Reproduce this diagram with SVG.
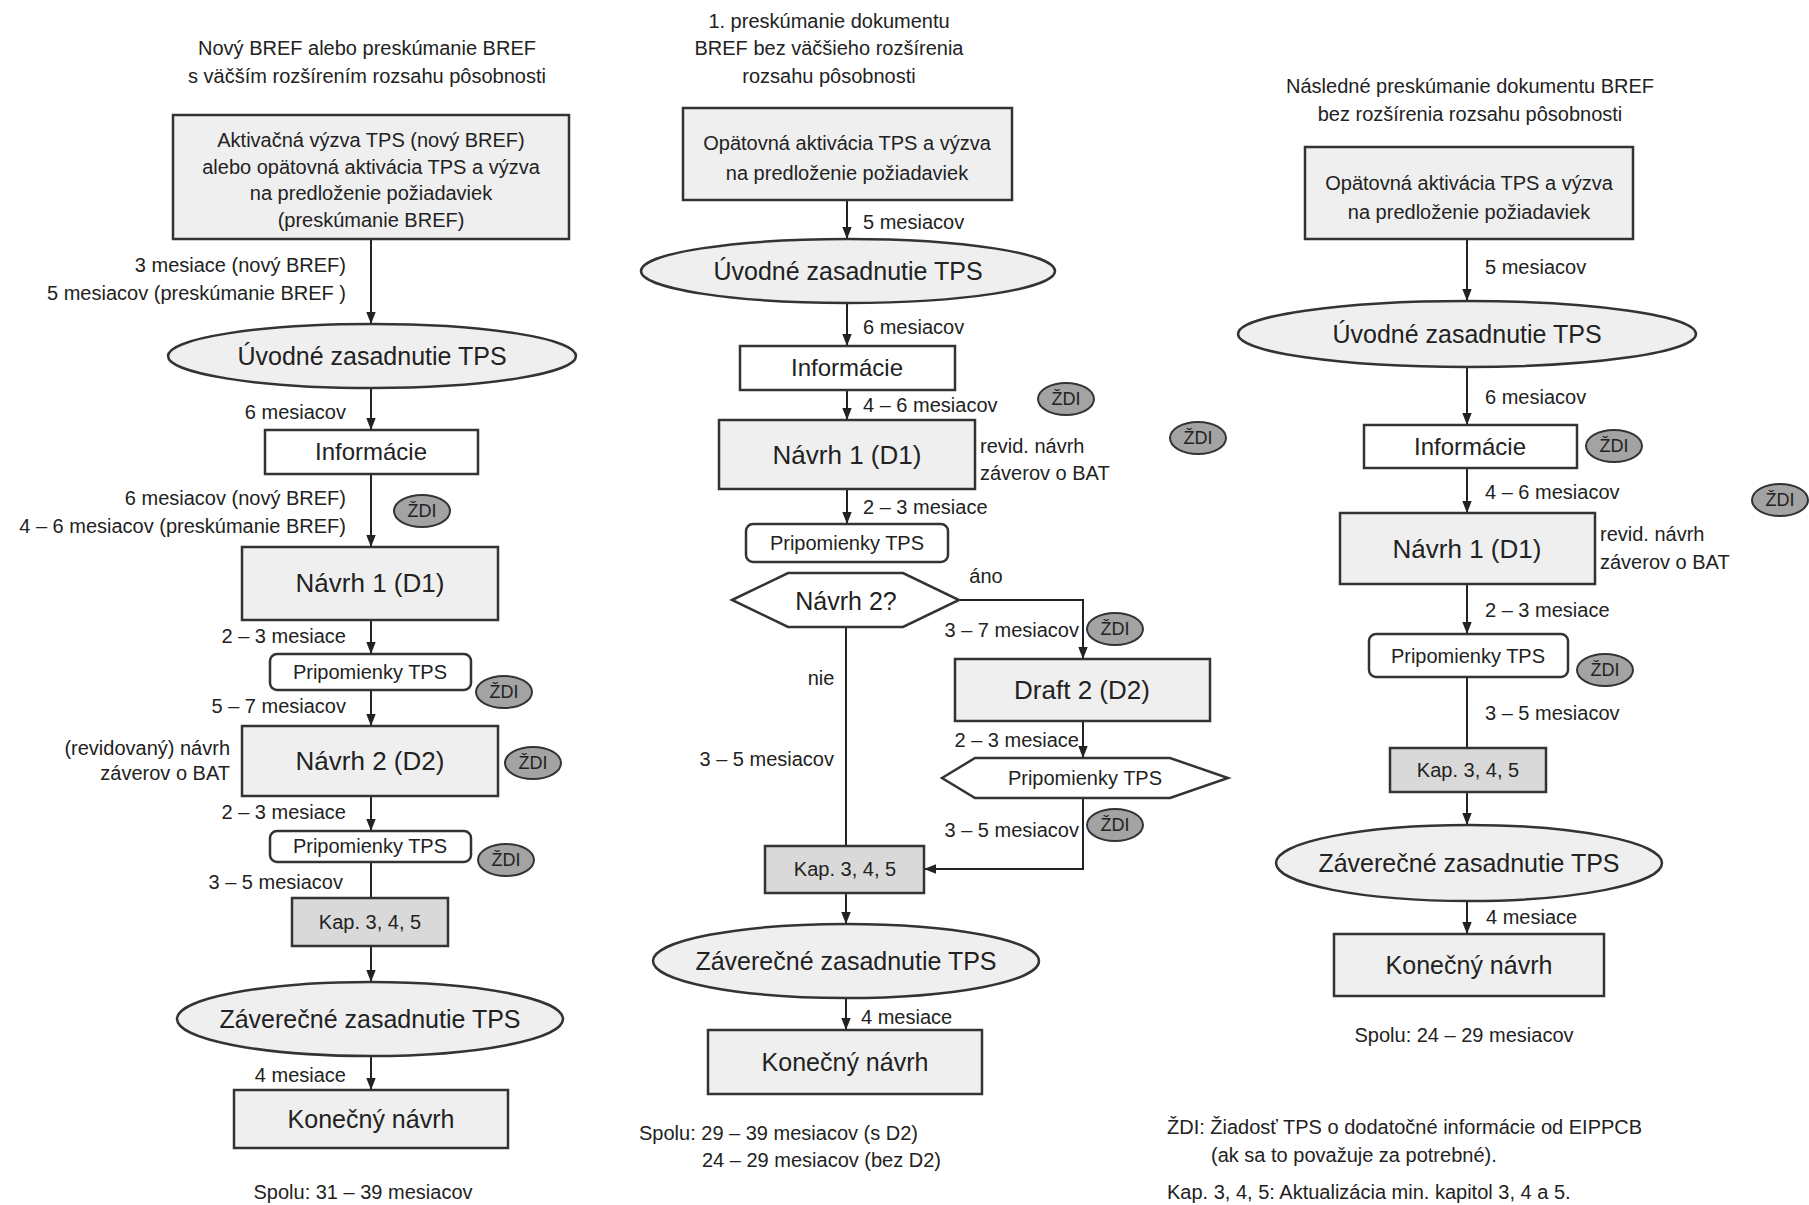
<svg xmlns="http://www.w3.org/2000/svg" width="1809" height="1205" viewBox="0 0 1809 1205">
<style>
text{font-family:"Liberation Sans",Arial,sans-serif;fill:#222}
.t{font-size:20px}
.m{text-anchor:middle}
.e{text-anchor:end}
.big{font-size:25px}
.box{fill:#efefef;stroke:#333;stroke-width:2.5}
.wbox{fill:#fff;stroke:#333;stroke-width:2.5}
.kap{fill:#d9d9d9;stroke:#333;stroke-width:2.5}
.zdi{fill:#a3a3a3;stroke:#333;stroke-width:2}
.zt{font-size:18px;text-anchor:middle}
.ln{fill:none;stroke:#222;stroke-width:2}
.ar{marker-end:url(#ah)}
</style>
<defs>
<marker id="ah" markerUnits="userSpaceOnUse" markerWidth="12" markerHeight="15" refX="14" refY="5.5" viewBox="0 0 14 11" orient="auto"><path d="M0,0 L14,5.5 L0,11 z" fill="#222"/></marker>
</defs>
<rect width="1809" height="1205" fill="#fff"/>

<!-- connectors -->
<g id="connectors">
<!-- left -->
<line class="ln ar" x1="371" y1="239" x2="371" y2="324"/>
<line class="ln ar" x1="371" y1="389" x2="371" y2="430"/>
<line class="ln ar" x1="371" y1="474" x2="371" y2="547"/>
<line class="ln ar" x1="371" y1="620" x2="371" y2="654"/>
<line class="ln ar" x1="371" y1="690" x2="371" y2="726"/>
<line class="ln ar" x1="371" y1="796" x2="371" y2="831"/>
<line class="ln" x1="371" y1="862" x2="371" y2="898"/>
<line class="ln ar" x1="371" y1="946" x2="371" y2="982"/>
<line class="ln ar" x1="371" y1="1056" x2="371" y2="1090"/>
<!-- middle -->
<line class="ln ar" x1="847" y1="200" x2="847" y2="239"/>
<line class="ln ar" x1="847" y1="303" x2="847" y2="346"/>
<line class="ln ar" x1="847" y1="390" x2="847" y2="420"/>
<line class="ln ar" x1="847" y1="489" x2="847" y2="524"/>
<polyline class="ln ar" points="959,600 1083,600 1083,659"/>
<line class="ln ar" x1="1083" y1="721" x2="1083" y2="758"/>
<polyline class="ln ar" points="1083,798 1083,869 924,869"/>
<line class="ln" x1="846" y1="628" x2="846" y2="846"/>
<line class="ln ar" x1="846" y1="893" x2="846" y2="924"/>
<line class="ln ar" x1="846" y1="998" x2="846" y2="1030"/>
<!-- right -->
<line class="ln ar" x1="1467" y1="239" x2="1467" y2="301"/>
<line class="ln ar" x1="1467" y1="367" x2="1467" y2="425"/>
<line class="ln ar" x1="1467" y1="468" x2="1467" y2="513"/>
<line class="ln ar" x1="1467" y1="584" x2="1467" y2="634"/>
<line class="ln" x1="1467" y1="677" x2="1467" y2="748"/>
<line class="ln ar" x1="1467" y1="792" x2="1467" y2="825"/>
<line class="ln ar" x1="1467" y1="901" x2="1467" y2="934"/>
</g>

<!-- connector labels and free texts -->
<g id="labels">
<text class="t m" x="367" y="55">Nový BREF alebo preskúmanie BREF</text>
<text class="t m" x="367" y="83">s väčším rozšírením rozsahu pôsobnosti</text>
<text class="t e" x="346" y="272">3 mesiace (nový BREF)</text>
<text class="t e" x="346" y="300">5 mesiacov (preskúmanie BREF )</text>
<text class="t e" x="346" y="419">6 mesiacov</text>
<text class="t e" x="346" y="505">6 mesiacov (nový BREF)</text>
<text class="t e" x="346" y="533">4 – 6 mesiacov (preskúmanie BREF)</text>
<text class="t e" x="346" y="643">2 – 3 mesiace</text>
<text class="t e" x="346" y="713">5 – 7 mesiacov</text>
<text class="t e" x="230" y="755">(revidovaný) návrh</text>
<text class="t e" x="230" y="780">záverov o BAT</text>
<text class="t e" x="346" y="819">2 – 3 mesiace</text>
<text class="t e" x="343" y="889">3 – 5 mesiacov</text>
<text class="t e" x="346" y="1082">4 mesiace</text>
<text class="t m" x="363" y="1199">Spolu: 31 – 39 mesiacov</text>

<text class="t m" x="829" y="28">1. preskúmanie dokumentu</text>
<text class="t m" x="829" y="55">BREF bez väčšieho rozšírenia</text>
<text class="t m" x="829" y="83">rozsahu pôsobnosti</text>
<text class="t" x="863" y="229">5 mesiacov</text>
<text class="t" x="863" y="334">6 mesiacov</text>
<text class="t" x="863" y="412">4 – 6 mesiacov</text>
<text class="t" x="980" y="453">revid. návrh</text>
<text class="t" x="980" y="480">záverov o BAT</text>
<text class="t" x="863" y="514">2 – 3 mesiace</text>
<text class="t m" x="986" y="583">áno</text>
<text class="t e" x="1079" y="637">3 – 7 mesiacov</text>
<text class="t m" x="821" y="685">nie</text>
<text class="t e" x="1079" y="747">2 – 3 mesiace</text>
<text class="t e" x="834" y="766">3 – 5 mesiacov</text>
<text class="t e" x="1079" y="837">3 – 5 mesiacov</text>
<text class="t" x="861" y="1024">4 mesiace</text>
<text class="t" x="639" y="1140">Spolu: 29 – 39 mesiacov (s D2)</text>
<text class="t" x="702" y="1167">24 – 29 mesiacov (bez D2)</text>

<text class="t m" x="1470" y="93">Následné preskúmanie dokumentu BREF</text>
<text class="t m" x="1470" y="121">bez rozšírenia rozsahu pôsobnosti</text>
<text class="t" x="1485" y="274">5 mesiacov</text>
<text class="t" x="1485" y="404">6 mesiacov</text>
<text class="t" x="1485" y="499">4 – 6 mesiacov</text>
<text class="t" x="1600" y="541">revid. návrh</text>
<text class="t" x="1600" y="569">záverov o BAT</text>
<text class="t" x="1485" y="617">2 – 3 mesiace</text>
<text class="t" x="1485" y="720">3 – 5 mesiacov</text>
<text class="t" x="1486" y="924">4 mesiace</text>
<text class="t m" x="1464" y="1042">Spolu: 24 – 29 mesiacov</text>
<text class="t" x="1167" y="1134">ŽDI: Žiadosť TPS o dodatočné informácie od EIPPCB</text>
<text class="t" x="1211" y="1162">(ak sa to považuje za potrebné).</text>
<text class="t" x="1167" y="1199">Kap. 3, 4, 5: Aktualizácia min. kapitol 3, 4 a 5.</text>
</g>

<!-- LEFT column nodes -->
<g id="L-start"><rect class="box" x="173" y="115" width="396" height="124"/>
<text class="t m" x="371" y="147">Aktivačná výzva TPS (nový BREF)</text>
<text class="t m" x="371" y="174">alebo opätovná aktivácia TPS a výzva</text>
<text class="t m" x="371" y="200">na predloženie požiadaviek</text>
<text class="t m" x="371" y="227">(preskúmanie BREF)</text></g>
<g id="L-uvodne"><ellipse class="box" cx="372" cy="356" rx="204" ry="32"/><text class="big m" x="372" y="365">Úvodné zasadnutie TPS</text></g>
<g id="L-info"><rect class="wbox" x="265" y="430" width="213" height="44"/><text class="m" style="font-size:24px" x="371" y="460">Informácie</text></g>
<g id="L-zdi1"><ellipse class="zdi" cx="422" cy="511" rx="28" ry="16"/><text class="zt" x="422" y="517">ŽDI</text></g>
<g id="L-d1"><rect class="box" x="242" y="547" width="256" height="73"/><text class="m" style="font-size:26px" x="370" y="592">Návrh 1 (D1)</text></g>
<g id="L-prip1"><rect class="wbox" x="270" y="654" width="201" height="36" rx="7"/><text class="t m" x="370" y="679">Pripomienky TPS</text></g>
<g id="L-zdi2"><ellipse class="zdi" cx="504" cy="692" rx="28" ry="16"/><text class="zt" x="504" y="698">ŽDI</text></g>
<g id="L-d2"><rect class="box" x="242" y="726" width="256" height="70"/><text class="m" style="font-size:26px" x="370" y="770">Návrh 2 (D2)</text></g>
<g id="L-zdi3"><ellipse class="zdi" cx="533" cy="763" rx="28" ry="16"/><text class="zt" x="533" y="769">ŽDI</text></g>
<g id="L-prip2"><rect class="wbox" x="270" y="831" width="201" height="31" rx="7"/><text class="t m" x="370" y="853">Pripomienky TPS</text></g>
<g id="L-zdi4"><ellipse class="zdi" cx="506" cy="860" rx="28" ry="16"/><text class="zt" x="506" y="866">ŽDI</text></g>
<g id="L-kap"><rect class="kap" x="292" y="898" width="156" height="48"/><text class="t m" x="370" y="929">Kap. 3, 4, 5</text></g>
<g id="L-zaver"><ellipse class="box" cx="370" cy="1019" rx="193" ry="37"/><text class="big m" x="370" y="1028">Záverečné zasadnutie TPS</text></g>
<g id="L-konec"><rect class="box" x="234" y="1090" width="274" height="58"/><text class="big m" x="371" y="1128">Konečný návrh</text></g>

<!-- MIDDLE column nodes -->
<g id="M-start"><rect class="box" x="683" y="108" width="329" height="92"/>
<text class="t m" x="847" y="150">Opätovná aktivácia TPS a výzva</text>
<text class="t m" x="847" y="180">na predloženie požiadaviek</text></g>
<g id="M-uvodne"><ellipse class="box" cx="848" cy="271" rx="207" ry="32"/><text class="big m" x="848" y="280">Úvodné zasadnutie TPS</text></g>
<g id="M-info"><rect class="wbox" x="740" y="346" width="215" height="44"/><text class="m" style="font-size:24px" x="847" y="376">Informácie</text></g>
<g id="M-zdi1"><ellipse class="zdi" cx="1066" cy="399" rx="28" ry="16"/><text class="zt" x="1066" y="405">ŽDI</text></g>
<g id="M-d1"><rect class="box" x="719" y="420" width="256" height="69"/><text class="m" style="font-size:26px" x="847" y="464">Návrh 1 (D1)</text></g>
<g id="M-zdi2"><ellipse class="zdi" cx="1198" cy="438" rx="28" ry="16"/><text class="zt" x="1198" y="444">ŽDI</text></g>
<g id="M-prip1"><rect class="wbox" x="746" y="524" width="202" height="38" rx="7"/><text class="t m" x="847" y="550">Pripomienky TPS</text></g>
<g id="M-hex"><polygon class="wbox" points="732,600 788,573 903,573 959,600 903,627 788,627"/><text class="m" style="font-size:25px" x="846" y="610">Návrh 2?</text></g>
<g id="M-zdi3"><ellipse class="zdi" cx="1115" cy="629" rx="28" ry="16"/><text class="zt" x="1115" y="635">ŽDI</text></g>
<g id="M-d2"><rect class="box" x="955" y="659" width="255" height="62"/><text class="m" style="font-size:26px" x="1082" y="699">Draft 2 (D2)</text></g>
<g id="M-prip2"><polygon class="wbox" points="942,778 975,758 1170,758 1228,778 1170,798 975,798"/><text class="t m" x="1085" y="785">Pripomienky TPS</text></g>
<g id="M-zdi4"><ellipse class="zdi" cx="1115" cy="825" rx="28" ry="16"/><text class="zt" x="1115" y="831">ŽDI</text></g>
<g id="M-kap"><rect class="kap" x="765" y="846" width="159" height="47"/><text class="t m" x="845" y="876">Kap. 3, 4, 5</text></g>
<g id="M-zaver"><ellipse class="box" cx="846" cy="961" rx="193" ry="37"/><text class="big m" x="846" y="970">Záverečné zasadnutie TPS</text></g>
<g id="M-konec"><rect class="box" x="708" y="1030" width="274" height="64"/><text class="big m" x="845" y="1071">Konečný návrh</text></g>

<!-- RIGHT column nodes -->
<g id="R-start"><rect class="box" x="1305" y="147" width="328" height="92"/>
<text class="t m" x="1469" y="190">Opätovná aktivácia TPS a výzva</text>
<text class="t m" x="1469" y="219">na predloženie požiadaviek</text></g>
<g id="R-uvodne"><ellipse class="box" cx="1467" cy="334" rx="229" ry="33"/><text class="big m" x="1467" y="343">Úvodné zasadnutie TPS</text></g>
<g id="R-info"><rect class="wbox" x="1364" y="425" width="213" height="43"/><text class="m" style="font-size:24px" x="1470" y="455">Informácie</text></g>
<g id="R-zdi1"><ellipse class="zdi" cx="1614" cy="446" rx="28" ry="16"/><text class="zt" x="1614" y="452">ŽDI</text></g>
<g id="R-zdi2"><ellipse class="zdi" cx="1780" cy="500" rx="28" ry="16"/><text class="zt" x="1780" y="506">ŽDI</text></g>
<g id="R-d1"><rect class="box" x="1340" y="513" width="255" height="71"/><text class="m" style="font-size:26px" x="1467" y="558">Návrh 1 (D1)</text></g>
<g id="R-prip"><rect class="wbox" x="1369" y="634" width="199" height="43" rx="7"/><text class="t m" x="1468" y="663">Pripomienky TPS</text></g>
<g id="R-zdi3"><ellipse class="zdi" cx="1605" cy="670" rx="28" ry="16"/><text class="zt" x="1605" y="676">ŽDI</text></g>
<g id="R-kap"><rect class="kap" x="1390" y="748" width="156" height="44"/><text class="t m" x="1468" y="777">Kap. 3, 4, 5</text></g>
<g id="R-zaver"><ellipse class="box" cx="1469" cy="863" rx="193" ry="38"/><text class="big m" x="1469" y="872">Záverečné zasadnutie TPS</text></g>
<g id="R-konec"><rect class="box" x="1334" y="934" width="270" height="62"/><text class="big m" x="1469" y="974">Konečný návrh</text></g>
</svg>
